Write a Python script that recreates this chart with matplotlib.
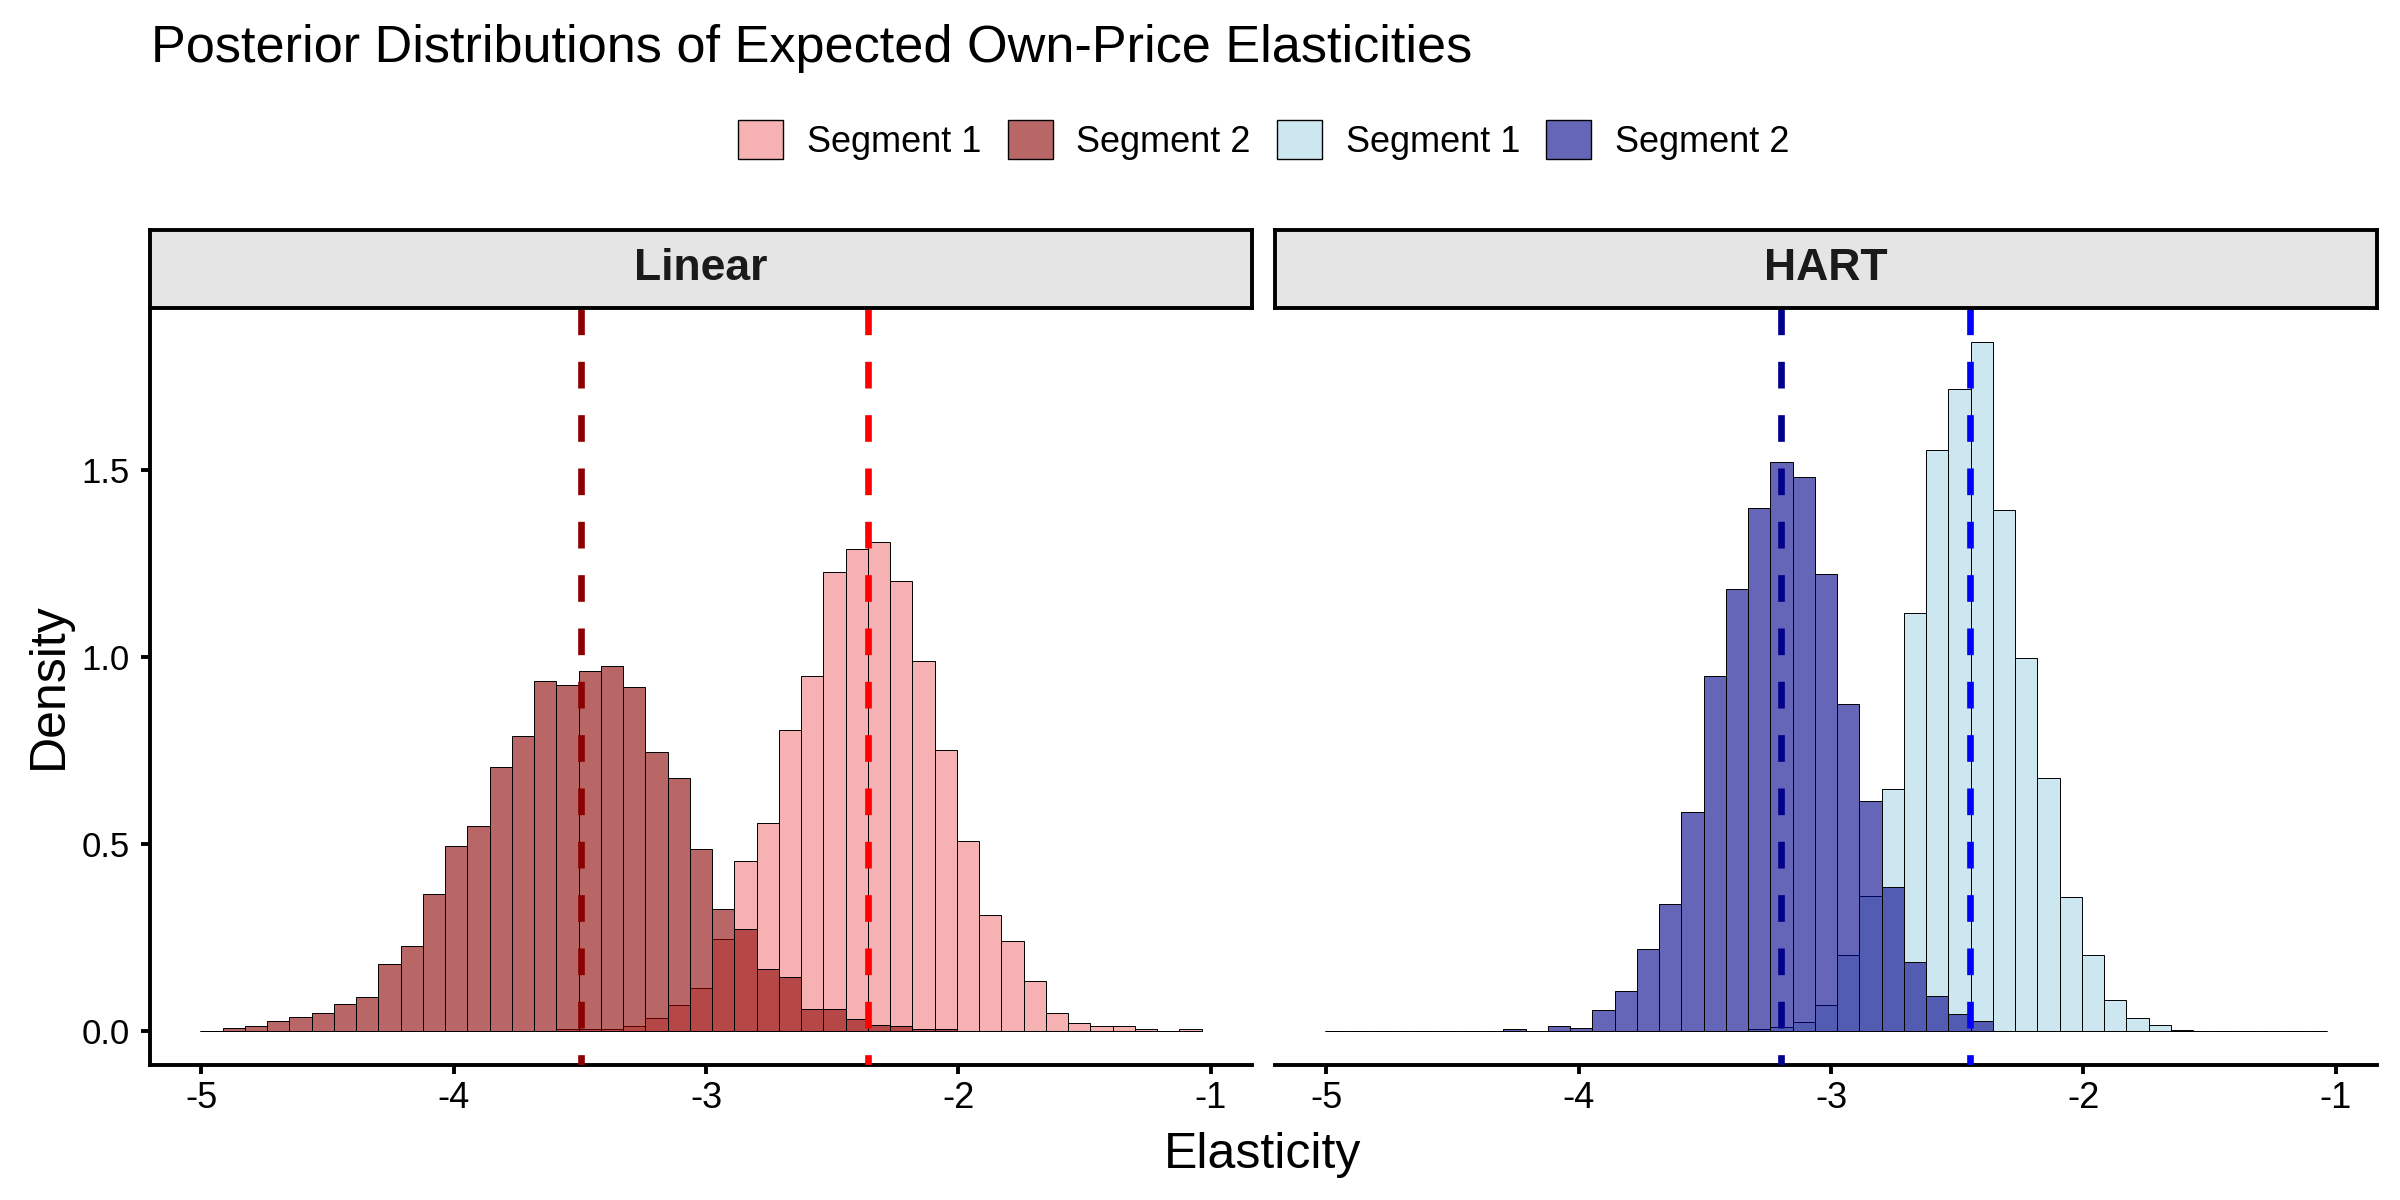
import numpy as np
import matplotlib
matplotlib.use("Agg")
import matplotlib.pyplot as plt
from matplotlib.colors import to_rgba
from matplotlib.patches import Patch

plt.rcParams['font.family'] = ['Liberation Sans', 'DejaVu Sans']
plt.rcParams['axes.unicode_minus'] = False

# histogram bins shared by all series (45 bins)
bin_edges = np.linspace(-5.004, -1.036, 46)

# Linear model densities
linear_seg1 = [0, 0, 0, 0, 0, 0, 0, 0, 0, 0,
               0, 0, 0, 0, 0, 0, 0.003, 0.003, 0.005, 0.013,
               0.035, 0.069, 0.114, 0.245, 0.454, 0.555, 0.805, 0.949, 1.227, 1.288,
               1.308, 1.203, 0.989, 0.751, 0.507, 0.310, 0.240, 0.133, 0.048, 0.021,
               0.011, 0.011, 0.003, 0.0, 0.003]
linear_seg2 = [0, 0.008, 0.013, 0.025, 0.037, 0.048, 0.072, 0.090, 0.177, 0.226,
               0.365, 0.494, 0.547, 0.704, 0.788, 0.936, 0.925, 0.961, 0.976, 0.920,
               0.744, 0.676, 0.486, 0.325, 0.273, 0.165, 0.144, 0.059, 0.059, 0.032,
               0.016, 0.011, 0.003, 0.005, 0, 0, 0, 0, 0, 0,
               0, 0, 0, 0, 0]

# HART model densities
hart_seg1 = [0, 0, 0, 0, 0, 0, 0, 0, 0, 0,
             0, 0, 0, 0, 0, 0, 0, 0, 0, 0.003,
             0.010, 0.023, 0.068, 0.201, 0.360, 0.646, 1.116, 1.552, 1.716, 1.841,
             1.392, 0.996, 0.676, 0.357, 0.201, 0.081, 0.033, 0.014, 0.001, 0,
             0, 0, 0, 0, 0]
hart_seg2 = [0, 0, 0, 0, 0, 0, 0, 0, 0.004, 0,
             0.013, 0.007, 0.055, 0.106, 0.217, 0.338, 0.585, 0.949, 1.180, 1.399,
             1.520, 1.480, 1.221, 0.875, 0.613, 0.385, 0.183, 0.092, 0.044, 0.025,
             0, 0, 0, 0, 0, 0, 0, 0, 0, 0,
             0, 0, 0, 0, 0]

# posterior means (dashed lines)
linear_means = [-2.36, -3.494]
hart_means = [-2.45, -3.20]

panels = [
    ("Linear", linear_seg1, linear_seg2, linear_means, ("lightcoral", "darkred"), ("red", "darkred")),
    ("HART", hart_seg1, hart_seg2, hart_means, ("lightblue", "darkblue"), ("blue", "darkblue")),
]

W, H = 2400, 1200
fig = plt.figure(figsize=(12, 6), dpi=200)

width = bin_edges[1] - bin_edges[0]
y_lo, y_hi = -0.092, 1.933
panel_left = [150, 1275]
panel_w = 1102
p_top, p_bot = 308, 1065
s_top = 230

for i, (name, s1, s2, means, fills, lines) in enumerate(panels):
    x0 = panel_left[i]
    ax = fig.add_axes([x0 / W, 1 - p_bot / H, panel_w / W, (p_bot - p_top) / H])
    ax.bar(bin_edges[:-1], s1, width=width, align='edge',
           facecolor=to_rgba(fills[0], 0.6), edgecolor='black', linewidth=0.35)
    ax.bar(bin_edges[:-1], s2, width=width, align='edge',
           facecolor=to_rgba(fills[1], 0.6), edgecolor='black', linewidth=0.35)
    for m, c in zip(means, lines):
        ax.plot([m, m], [y_hi, y_lo], color=c, lw=2.4, dashes=(4, 4), zorder=5)
    ax.set_xlim(-5.204, -0.836)
    ax.set_ylim(y_lo, y_hi)
    ax.set_xticks([-5, -4, -3, -2, -1])
    ax.set_xticklabels(["-5", "-4", "-3", "-2", "-1"])
    ax.spines['top'].set_visible(False)
    ax.spines['right'].set_visible(False)
    ax.spines['bottom'].set_linewidth(1.4)
    ax.spines['left'].set_linewidth(1.4)
    ax.tick_params(axis='x', labelsize=13, length=3.2, width=1.4, pad=2.6, colors='black')
    ax.tick_params(axis='y', labelsize=12.5, length=3.2, width=1.4, pad=4.2, colors='black')
    if i == 0:
        ax.set_yticks([0, 0.5, 1.0, 1.5])
        ax.set_yticklabels(["0.0", "0.5", "1.0", "1.5"])
    else:
        ax.spines['left'].set_visible(False)
        ax.set_yticks([])

    # facet strip
    sax = fig.add_axes([x0 / W, 1 - p_top / H, panel_w / W, (p_top - s_top) / H])
    sax.set_facecolor('#E5E5E5')
    sax.set_xticks([])
    sax.set_yticks([])
    for sp in sax.spines.values():
        sp.set_linewidth(1.4)
        sp.set_color('black')
    sax.text(0.5, 0.5, name, ha='center', va='center', fontsize=16,
             fontweight='bold', color='#1A1A1A', transform=sax.transAxes)

fig.text(151 / W, 1 - 62 / H, "Posterior Distributions of Expected Own-Price Elasticities",
         fontsize=18.8, va='baseline', ha='left')
fig.text(1263 / W, 1 - 1168 / H, "Elasticity", fontsize=18, va='baseline', ha='center')
fig.text(49 / W, 1 - 686 / H, "Density", fontsize=18, va='center', ha='center', rotation=90)

handles = [Patch(facecolor=to_rgba(c, 0.6), edgecolor='black', linewidth=0.5)
           for c in ["lightcoral", "darkred", "lightblue", "darkblue"]]
labels = ["Segment 1", "Segment 2", "Segment 1", "Segment 2"]
fig.legend(handles, labels, loc='center', bbox_to_anchor=(1264 / W, 1 - 140 / H), ncol=4,
           frameon=False, fontsize=13, handlelength=1.25, handleheight=1.28,
           handletextpad=0.66, columnspacing=0.72)

fig.savefig("out.png", dpi=200)
